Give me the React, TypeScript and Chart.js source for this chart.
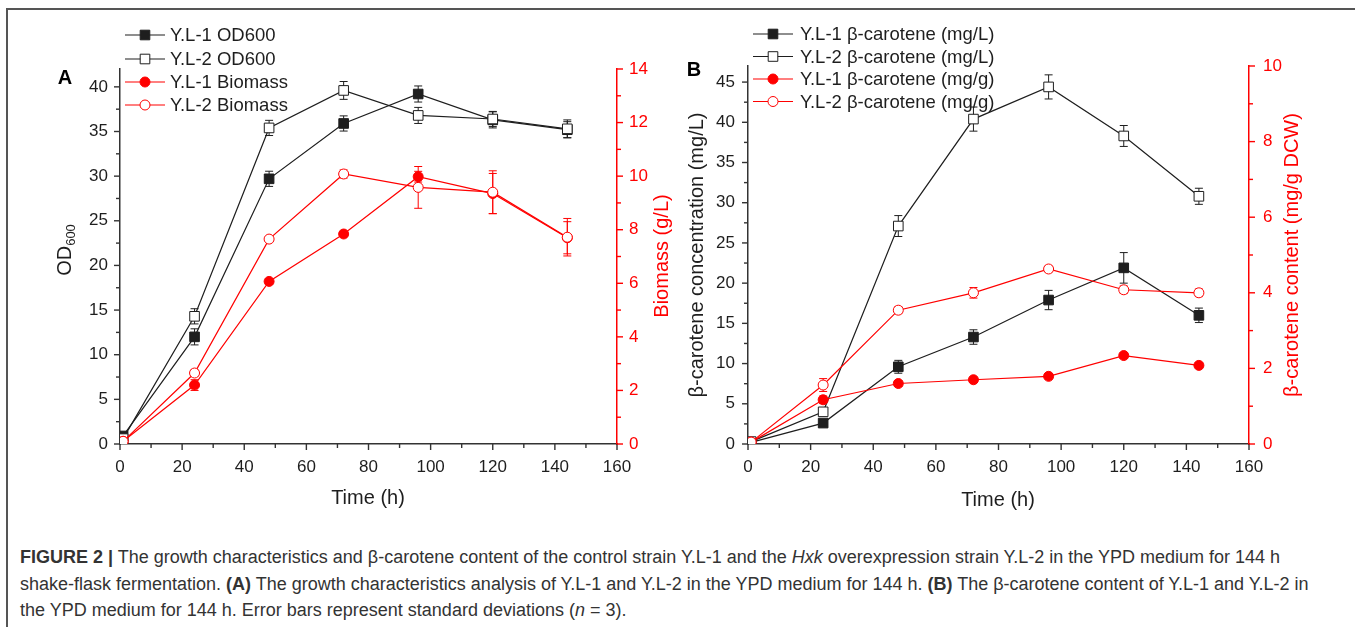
import React, { useEffect, useRef } from "react";
import { Chart, registerables } from "chart.js";

Chart.register(...registerables);

// ---------- data ----------
const timePoints = [1, 24, 48, 72, 96, 120, 144];
const timeTicks = [0, 20, 40, 60, 80, 100, 120, 140, 160];

// Panel A
const od600Ticks = [0, 5, 10, 15, 20, 25, 30, 35, 40];
const biomassTicks = [0, 2, 4, 6, 8, 10, 12, 14];
const yl1OD600 = [0.9, 12.0, 29.7, 35.9, 39.2, 36.3, 35.2];
const yl1OD600Sd = [0, 0.9, 0.85, 0.85, 0.9, 0.9, 0.9];
const yl2OD600 = [0.6, 14.3, 35.4, 39.6, 36.8, 36.4, 35.3];
const yl2OD600Sd = [0, 0.85, 0.85, 1.0, 0.9, 0.85, 1.0];
const yl1Biomass = [0.1, 2.2, 6.07, 7.84, 9.98, 9.35, 7.7];
const yl1BiomassSd = [0, 0.2, 0.1, 0.1, 0.2, 0.75, 0.6];
const yl2Biomass = [0.1, 2.65, 7.65, 10.08, 9.58, 9.4, 7.72];
const yl2BiomassSd = [0, 0.12, 0.1, 0.15, 0.78, 0.8, 0.7];

// Panel B
const mgLTicks = [0, 5, 10, 15, 20, 25, 30, 35, 40, 45];
const mgGTicks = [0, 2, 4, 6, 8, 10];
const yl1CarMgL = [0.2, 2.6, 9.6, 13.3, 17.9, 21.9, 16.0];
const yl1CarMgLSd = [0, 0.4, 0.8, 0.9, 1.2, 1.9, 0.9];
const yl2CarMgL = [0.3, 4.0, 27.1, 40.4, 44.4, 38.3, 30.8];
const yl2CarMgLSd = [0, 0.5, 1.3, 1.5, 1.5, 1.3, 1.0];
const yl1CarMgG = [0.05, 1.17, 1.6, 1.7, 1.79, 2.34, 2.08];
const yl1CarMgGSd = [0, 0.1, 0.08, 0.07, 0.07, 0.07, 0.06];
const yl2CarMgG = [0.05, 1.56, 3.54, 4.0, 4.63, 4.08, 4.0];
const yl2CarMgGSd = [0, 0.17, 0.09, 0.14, 0.08, 0.1, 0.1];

// ---------- styles ----------
const FONT = '"Liberation Sans", Arial, Helvetica, sans-serif';
const BLACK = "#1e1e1e";
const AXIS = "#333333";
const RED = "#ff0000";

type Marker = { style: "rect" | "circle"; filled: boolean; color: string };

function pts(vals: number[]) {
  return timePoints.map((t, i) => ({ x: t, y: vals[i] }));
}

function series(label: string, vals: number[], sd: number[], axis: string, m: Marker, order: number) {
  return {
    label,
    data: pts(vals),
    errors: sd,
    yAxisID: axis,
    order,
    borderColor: m.color,
    backgroundColor: m.color,
    borderWidth: 1.2,
    tension: 0,
    pointStyle: m.style,
    pointRadius: m.style === "rect" ? 6.8 : 5,
    pointBorderWidth: 1,
    pointBorderColor: m.color,
    pointBackgroundColor: m.filled ? m.color : "#ffffff",
    marker: m,
  };
}

function drawMarker(ctx: CanvasRenderingContext2D, m: Marker, x: number, y: number) {
  ctx.save();
  ctx.lineWidth = 1;
  ctx.strokeStyle = m.color;
  ctx.fillStyle = m.filled ? m.color : "#ffffff";
  ctx.beginPath();
  if (m.style === "rect") {
    const s = 4.8;
    ctx.rect(x - s, y - s, 2 * s, 2 * s);
  } else {
    ctx.arc(x, y, 5, 0, Math.PI * 2);
  }
  ctx.fill();
  ctx.stroke();
  ctx.restore();
}

type TitleSpec = {
  text: string;
  x: number;
  y: number;
  rot?: boolean;
  color: string;
  font: string;
  sub?: string;
  subFont?: string;
};

type PanelSpec = {
  padTop: number;
  leftW: number;
  rightW: number;
  bottomH: number;
  yMax: number;
  y1Max: number;
  yTicks: number[];
  y1Ticks: number[];
  yMinor: number;
  y1Minor: number;
  datasets: any[];
  legend: { x0: number; x1: number; mx: number; tx: number; rows: number[] };
  titles: TitleSpec[];
  yPad: number;
  y1Pad: number;
};

function makeConfig(p: PanelSpec) {
  const tickPlugin = {
    id: "minorTicks",
    afterDraw(chart: any) {
      const ctx = chart.ctx as CanvasRenderingContext2D;
      const defs = [
        { id: "x", minor: 10, major: 20, dir: "down", color: AXIS },
        { id: "y", minor: p.yMinor, major: p.yMinor * 2, dir: "left", color: AXIS },
        { id: "y1", minor: p.y1Minor, major: p.y1Minor * 2, dir: "right", color: RED },
      ];
      ctx.save();
      ctx.lineWidth = 1.4;
      for (const d of defs) {
        const sc = chart.scales[d.id];
        ctx.strokeStyle = d.color;
        const n = Math.round((sc.max - sc.min) / d.minor);
        for (let k = 0; k <= n; k++) {
          const v = sc.min + k * d.minor;
          if (v > sc.max + 1e-9) break;
          const isMajor = Math.abs(v / d.major - Math.round(v / d.major)) < 1e-6;
          const len = isMajor ? 6 : 4;
          const px = sc.getPixelForValue(v);
          ctx.beginPath();
          if (d.dir === "down") {
            ctx.moveTo(px, chart.chartArea.bottom);
            ctx.lineTo(px, chart.chartArea.bottom + len);
          } else if (d.dir === "left") {
            ctx.moveTo(chart.chartArea.left, px);
            ctx.lineTo(chart.chartArea.left - len, px);
          } else {
            ctx.moveTo(chart.chartArea.right, px);
            ctx.lineTo(chart.chartArea.right + len, px);
          }
          ctx.stroke();
        }
      }
      ctx.restore();
    },
  };

  const errorPlugin = {
    id: "errorBars",
    beforeDatasetsDraw(chart: any) {
      const ctx = chart.ctx as CanvasRenderingContext2D;
      const xs = chart.scales.x;
      chart.data.datasets.forEach((ds: any, i: number) => {
        const meta = chart.getDatasetMeta(i);
        const ys = chart.scales[meta.yAxisID];
        ctx.save();
        ctx.strokeStyle = ds.borderColor;
        ctx.lineWidth = 1;
        ds.data.forEach((pt: any, j: number) => {
          const e = ds.errors[j];
          if (!e) return;
          const px = xs.getPixelForValue(pt.x);
          const t = ys.getPixelForValue(pt.y + e);
          const b = ys.getPixelForValue(pt.y - e);
          ctx.beginPath();
          ctx.moveTo(px, t);
          ctx.lineTo(px, b);
          ctx.moveTo(px - 4, t);
          ctx.lineTo(px + 4, t);
          ctx.moveTo(px - 4, b);
          ctx.lineTo(px + 4, b);
          ctx.stroke();
        });
        ctx.restore();
      });
    },
  };

  const decoPlugin = {
    id: "deco",
    afterDraw(chart: any) {
      const ctx = chart.ctx as CanvasRenderingContext2D;
      // legend
      const L = p.legend;
      chart.data.datasets.forEach((ds: any, i: number) => {
        const y = L.rows[i];
        ctx.save();
        ctx.strokeStyle = ds.borderColor;
        ctx.lineWidth = 1.2;
        ctx.beginPath();
        ctx.moveTo(L.x0, y);
        ctx.lineTo(L.x1, y);
        ctx.stroke();
        ctx.restore();
        drawMarker(ctx, ds.marker, L.mx, y);
        ctx.save();
        ctx.fillStyle = BLACK;
        ctx.font = `18.5px ${FONT}`;
        ctx.textBaseline = "middle";
        ctx.textAlign = "left";
        ctx.fillText(ds.label, L.tx, y + 1);
        ctx.restore();
      });
      // titles
      for (const t of p.titles) {
        ctx.save();
        ctx.translate(t.x, t.y);
        if (t.rot) ctx.rotate(-Math.PI / 2);
        ctx.fillStyle = t.color;
        ctx.textBaseline = "middle";
        ctx.font = t.font;
        if (t.sub) {
          const w1 = ctx.measureText(t.text).width;
          ctx.font = t.subFont as string;
          const w2 = ctx.measureText(t.sub).width;
          const W = w1 + w2;
          ctx.textAlign = "left";
          ctx.font = t.font;
          ctx.fillText(t.text, -W / 2, 0);
          ctx.font = t.subFont as string;
          ctx.fillText(t.sub, -W / 2 + w1, 6);
        } else {
          ctx.textAlign = "center";
          ctx.fillText(t.text, 0, 0);
        }
        ctx.restore();
      }
    },
  };

  const tickFont = { family: FONT, size: 17 };

  return {
    type: "line",
    data: { datasets: p.datasets },
    options: {
      animation: false,
      responsive: false,
      devicePixelRatio: 1,
      layout: { padding: { top: p.padTop, left: 0, right: 0, bottom: 0 } },
      plugins: { legend: { display: false }, tooltip: { enabled: false } },
      scales: {
        x: {
          type: "linear",
          min: 0,
          max: 160,
          afterFit: (s: any) => {
            s.height = p.bottomH;
          },
          afterBuildTicks: (s: any) => {
            s.ticks = timeTicks.map((v) => ({ value: v }));
          },
          ticks: { color: BLACK, font: tickFont, padding: 13, maxRotation: 0, autoSkip: false },
          grid: { display: false, drawTicks: false },
          border: { display: true, color: AXIS, width: 1.5 },
        },
        y: {
          type: "linear",
          position: "left",
          min: 0,
          max: p.yMax,
          afterFit: (s: any) => {
            s.width = p.leftW;
          },
          afterBuildTicks: (s: any) => {
            s.ticks = p.yTicks.map((v) => ({ value: v }));
          },
          ticks: { color: BLACK, font: tickFont, padding: p.yPad, autoSkip: false },
          grid: { display: false, drawTicks: false },
          border: { display: true, color: AXIS, width: 1.5 },
        },
        y1: {
          type: "linear",
          position: "right",
          min: 0,
          max: p.y1Max,
          afterFit: (s: any) => {
            s.width = p.rightW;
          },
          afterBuildTicks: (s: any) => {
            s.ticks = p.y1Ticks.map((v) => ({ value: v }));
          },
          ticks: { color: RED, font: tickFont, padding: p.y1Pad, autoSkip: false },
          grid: { display: false, drawTicks: false },
          border: { display: true, color: RED, width: 1.5 },
        },
      },
    },
    plugins: [errorPlugin, tickPlugin, decoPlugin],
  };
}

const mBlackFilled: Marker = { style: "rect", filled: true, color: BLACK };
const mBlackOpen: Marker = { style: "rect", filled: false, color: BLACK };
const mRedFilled: Marker = { style: "circle", filled: true, color: RED };
const mRedOpen: Marker = { style: "circle", filled: false, color: RED };

const titleFont = `20px ${FONT}`;

const panelA: PanelSpec = {
  padTop: 69,
  leftW: 120,
  rightW: 63,
  bottomH: 76,
  yMax: 42,
  y1Max: 14,
  yTicks: od600Ticks,
  y1Ticks: biomassTicks,
  yMinor: 2.5,
  y1Minor: 1,
  yPad: 12,
  y1Pad: 12,
  datasets: [
    series("Y.L-1 OD600", yl1OD600, yl1OD600Sd, "y", mBlackFilled, 3),
    series("Y.L-2 OD600", yl2OD600, yl2OD600Sd, "y", mBlackOpen, 2),
    series("Y.L-1 Biomass", yl1Biomass, yl1BiomassSd, "y1", mRedFilled, 1),
    series("Y.L-2 Biomass", yl2Biomass, yl2BiomassSd, "y1", mRedOpen, 0),
  ],
  legend: { x0: 125, x1: 165, mx: 145, tx: 170, rows: [35, 59, 82, 105] },
  titles: [
    { text: "Time (h)", x: 368, y: 498, color: BLACK, font: titleFont },
    { text: "OD", sub: "600", x: 65, y: 250, rot: true, color: BLACK, font: titleFont, subFont: `13px ${FONT}` },
    { text: "Biomass (g/L)", x: 662, y: 256, rot: true, color: RED, font: titleFont },
    { text: "A", x: 65, y: 78, color: "#000", font: `bold 20px ${FONT}` },
  ],
};

const panelB: PanelSpec = {
  padTop: 66,
  leftW: 68,
  rightW: 106,
  bottomH: 76,
  yMax: 47,
  y1Max: 10,
  yTicks: mgLTicks,
  y1Ticks: mgGTicks,
  yMinor: 2.5,
  y1Minor: 1,
  yPad: 13,
  y1Pad: 14,
  datasets: [
    series("Y.L-1 β-carotene (mg/L)", yl1CarMgL, yl1CarMgLSd, "y", mBlackFilled, 3),
    series("Y.L-2 β-carotene (mg/L)", yl2CarMgL, yl2CarMgLSd, "y", mBlackOpen, 2),
    series("Y.L-1 β-carotene (mg/g)", yl1CarMgG, yl1CarMgGSd, "y1", mRedFilled, 1),
    series("Y.L-2 β-carotene (mg/g)", yl2CarMgG, yl2CarMgGSd, "y1", mRedOpen, 0),
  ],
  legend: { x0: 73, x1: 113, mx: 93, tx: 120, rows: [34, 56.5, 79, 101.5] },
  titles: [
    { text: "Time (h)", x: 318, y: 500, color: BLACK, font: titleFont },
    { text: "β-carotene concentration (mg/L)", x: 17, y: 255, rot: true, color: BLACK, font: titleFont },
    { text: "β-carotene content (mg/g DCW)", x: 612, y: 255, rot: true, color: RED, font: titleFont },
    { text: "B", x: 14, y: 70, color: "#000", font: `bold 20px ${FONT}` },
  ],
};

function Panel({ spec, left, width }: { spec: PanelSpec; left: number; width: number }) {
  const ref = useRef<HTMLCanvasElement | null>(null);
  useEffect(() => {
    if (!ref.current) return;
    const chart = new Chart(ref.current, makeConfig(spec) as any);
    return () => chart.destroy();
  }, [spec]);
  return (
    <canvas
      ref={ref}
      width={width}
      height={520}
      style={{ position: "absolute", left, top: 0, width, height: 520 }}
    />
  );
}

export default function App() {
  return (
    <div
      style={{
        position: "absolute",
        left: 0,
        top: 0,
        width: 1355,
        height: 627,
        background: "#ffffff",
        overflow: "hidden",
      }}
    >
      <div
        style={{
          position: "absolute",
          left: 6,
          top: 8,
          width: 1349,
          height: 619,
          borderTop: "2px solid #555",
          borderLeft: "2px solid #555",
        }}
      />
      <Panel spec={panelA} left={0} width={680} />
      <Panel spec={panelB} left={680} width={675} />
      <div
        style={{
          position: "absolute",
          left: 20,
          top: 544,
          whiteSpace: "nowrap",
          fontFamily: FONT,
          fontSize: 18,
          lineHeight: "26.5px",
          color: "#333",
        }}
      >
        <b>FIGURE 2 |</b> The growth characteristics and β-carotene content of the control strain Y.L-1 and the{" "}
        <i>Hxk</i> overexpression strain Y.L-2 in the YPD medium for 144 h
        <br />
        shake-flask fermentation. <b>(A)</b> The growth characteristics analysis of Y.L-1 and Y.L-2 in the YPD medium
        for 144 h. <b>(B)</b> The β-carotene content of Y.L-1 and Y.L-2 in
        <br />
        the YPD medium for 144 h. Error bars represent standard deviations (<i>n</i> = 3).
      </div>
    </div>
  );
}
